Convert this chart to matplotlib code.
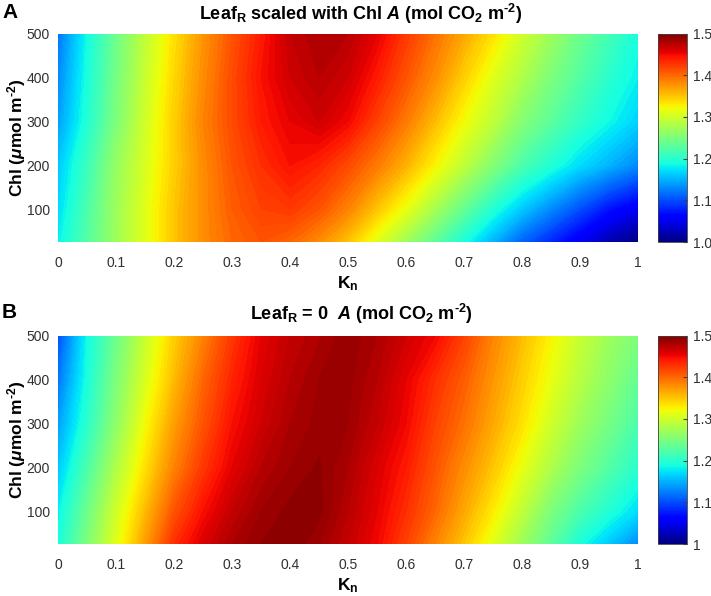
"""
Leaf A against Kn and Chl, with and without leaf respiration scaling
"""
import matplotlib
matplotlib.use('Agg')
import matplotlib.pyplot as plt
import numpy as np

plt.rcParams['font.family'] = ['Liberation Sans', 'DejaVu Sans']
plt.rcParams['mathtext.fontset'] = 'custom'
plt.rcParams['mathtext.rm'] = 'Liberation Sans:bold'
plt.rcParams['mathtext.bf'] = 'Liberation Sans:bold'
plt.rcParams['mathtext.it'] = 'Liberation Sans:italic:bold'

kn = [0, .05, .1, .15, .2, .25, .3, .35, .4, .45, .5, .55, .6, .65, .7, .75, .8, .85, .9, .95, 1]
chl = [25, 100, 200, 300, 400, 500]

# rows follow chl, columns follow kn
a_scaled = [
    [1.18, 1.225, 1.27, 1.31, 1.35, 1.38, 1.40, 1.41, 1.40, 1.38, 1.35, 1.31, 1.27, 1.23, 1.19, 1.15, 1.11, 1.08, 1.05, 1.02, 1.00],
    [1.17, 1.22, 1.27, 1.31, 1.35, 1.38, 1.405, 1.42, 1.425, 1.41, 1.385, 1.35, 1.315, 1.275, 1.235, 1.195, 1.16, 1.13, 1.10, 1.07, 1.05],
    [1.16, 1.21, 1.265, 1.305, 1.345, 1.38, 1.41, 1.43, 1.445, 1.435, 1.415, 1.39, 1.36, 1.325, 1.29, 1.255, 1.22, 1.195, 1.17, 1.15, 1.13],
    [1.14, 1.195, 1.25, 1.30, 1.345, 1.385, 1.415, 1.44, 1.455, 1.465, 1.45, 1.42, 1.39, 1.355, 1.32, 1.29, 1.255, 1.23, 1.205, 1.185, 1.165],
    [1.13, 1.19, 1.245, 1.295, 1.34, 1.38, 1.415, 1.445, 1.465, 1.475, 1.465, 1.44, 1.41, 1.38, 1.345, 1.31, 1.28, 1.25, 1.225, 1.20, 1.18],
    [1.12, 1.185, 1.24, 1.29, 1.335, 1.375, 1.41, 1.44, 1.47, 1.48, 1.475, 1.455, 1.425, 1.395, 1.365, 1.335, 1.30, 1.27, 1.24, 1.215, 1.19],
]

a_zero = [
    [1.19, 1.25, 1.31, 1.37, 1.43, 1.46, 1.48, 1.49, 1.495, 1.485, 1.47, 1.45, 1.42, 1.385, 1.35, 1.31, 1.27, 1.23, 1.19, 1.16, 1.13],
    [1.18, 1.24, 1.30, 1.355, 1.41, 1.445, 1.47, 1.485, 1.492, 1.492, 1.475, 1.455, 1.43, 1.40, 1.365, 1.33, 1.29, 1.25, 1.22, 1.195, 1.17],
    [1.16, 1.22, 1.28, 1.335, 1.385, 1.425, 1.455, 1.475, 1.485, 1.491, 1.48, 1.46, 1.44, 1.41, 1.38, 1.35, 1.315, 1.28, 1.25, 1.225, 1.20],
    [1.14, 1.20, 1.26, 1.32, 1.37, 1.41, 1.445, 1.465, 1.48, 1.487, 1.485, 1.47, 1.45, 1.42, 1.395, 1.365, 1.335, 1.30, 1.27, 1.245, 1.22],
    [1.12, 1.19, 1.25, 1.305, 1.355, 1.40, 1.435, 1.46, 1.475, 1.485, 1.487, 1.475, 1.455, 1.43, 1.405, 1.375, 1.345, 1.315, 1.285, 1.26, 1.235],
    [1.10, 1.185, 1.24, 1.295, 1.345, 1.385, 1.425, 1.455, 1.47, 1.479, 1.489, 1.48, 1.465, 1.45, 1.42, 1.385, 1.355, 1.325, 1.295, 1.27, 1.25],
]

kn_ticks = [0, .1, .2, .3, .4, .5, .6, .7, .8, .9, 1]
kn_labels = ['0', '0.1', '0.2', '0.3', '0.4', '0.5', '0.6', '0.7', '0.8', '0.9', '1']
chl_ticks = [100, 200, 300, 400, 500]
cb_ticks = [1, 1.1, 1.2, 1.3, 1.4, 1.5]
cb_labels = ['1', '1.1', '1.2', '1.3', '1.4', '1.5']

panels = [
    ('A', a_scaled, r'Leaf$_{\mathrm{R}}$ scaled with Chl $\mathit{A}$ (mol CO$_{\mathrm{2}}$ m$^{\mathrm{\text{-}2}}$)', 33.5, 13, 20),
    ('B', a_zero, r'Leaf$_{\mathrm{R}}$ = 0  $\mathit{A}$ (mol CO$_{\mathrm{2}}$ m$^{\mathrm{\text{-}2}}$)', 335.5, 312, 320.5),
]
W, H = 711, 596
ax_h = 208.5
levels = np.linspace(1, 1.5, 101)

fig = plt.figure(figsize=(W / 100, H / 100), dpi=100)
norm = matplotlib.colors.Normalize(1, 1.5)

for letter, values, title, top, letter_y, title_y in panels:
    ax = fig.add_axes([58 / W, 1 - (top + ax_h) / H, 580 / W, ax_h / H])
    ax.contourf(kn, chl, values, levels=levels, cmap='jet', norm=norm)
    ax.set_xlim(0, 1)
    ax.set_ylim(25, 500)
    ax.set_xticks(kn_ticks, kn_labels)
    ax.set_yticks(chl_ticks)
    ax.tick_params(length=0, labelsize=10, labelcolor='#303030', pad=6)
    ax.tick_params(axis='x', pad=10)
    for s in ax.spines.values():
        s.set_visible(False)
    ax.set_xlabel(r'K$_{\mathrm{n}}$', fontsize=12.5, fontweight='bold', labelpad=3)
    ax.set_ylabel(r'Chl ($\mathit{\mu}$mol m$^{\mathrm{\text{-}2}}$)', fontsize=12.5, fontweight='bold', labelpad=-1)

    fig.text(361 / W, 1 - title_y / H, title, fontsize=13, fontweight='bold', ha='center', va='baseline')

    cax = fig.add_axes([657.5 / W, 1 - (top + ax_h) / H, 29.5 / W, ax_h / H])
    cb = fig.colorbar(matplotlib.cm.ScalarMappable(norm=norm, cmap='jet'), cax=cax)
    cb.ax.set_yticks(cb_ticks, cb_labels)
    cb.ax.tick_params(length=3, direction='in', labelsize=10, labelcolor='#303030', pad=4, color='#404040')
    cb.outline.set_edgecolor('#404040')
    cb.outline.set_linewidth(0.6)

    fig.text(2 / W, 1 - letter_y / H, letter, fontsize=15, fontweight='bold', va='center', ha='left')

fig.savefig('out.png', dpi=100)
